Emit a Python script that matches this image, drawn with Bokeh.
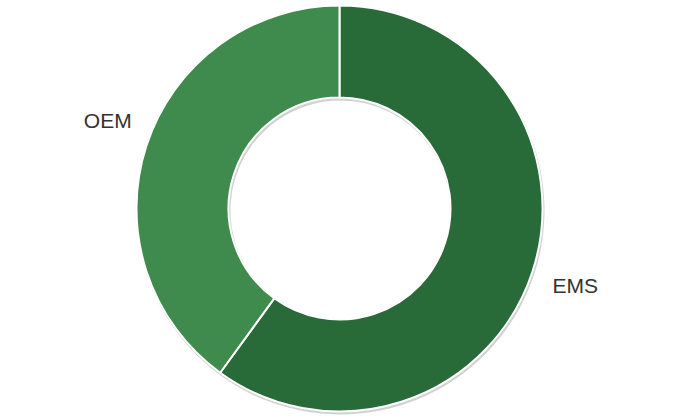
import numpy as np
from bokeh.plotting import figure
from bokeh.models import Range1d, ColumnDataSource
from bokeh.core.properties import value
from bokeh.embed import file_html
from bokeh.resources import INLINE

categories = ["EMS", "OEM"]
shares = [60, 40]
colors = ["#296a39", "#3e8b4d"]

W, H = 678, 418
cx, cy = 339, 210
R_out, R_in = 203, 111

total = float(sum(shares))
fr = np.array(shares) / total
cum = np.concatenate([[0], np.cumsum(fr)])
# clockwise from top
start = np.pi / 2 - cum[:-1] * 2 * np.pi
end = np.pi / 2 - cum[1:] * 2 * np.pi
mid = (start + end) / 2
# labels sit a little further round toward the top for the upper slice
lab_ang = mid + np.where(np.sin(mid) > 0, -1, 1) * 0.0 + np.where(np.cos(mid) < 0, -0.05, 0.0)

src = ColumnDataSource(dict(cat=categories, start=start, end=end, color=colors,
                            lx=cx + 248 * np.cos(lab_ang), ly=cy + 248 * np.sin(lab_ang)))

p = figure(width=W, height=H, output_backend="svg", toolbar_location=None,
           x_range=Range1d(0, W), y_range=Range1d(0, H), min_border=0)
p.axis.visible = False
p.grid.visible = False
p.outline_line_color = None

# shadow
p.annular_wedge(x=cx + 1, y=cy - 2, inner_radius=R_in - 1, outer_radius=R_out + 1,
                start_angle="start", end_angle="end", direction="clock",
                fill_color="#000000", fill_alpha=0.18, line_color=None, source=src)
p.annular_wedge(x=cx, y=cy, inner_radius=R_in, outer_radius=R_out,
                start_angle="start", end_angle="end", direction="clock",
                fill_color="color", line_color="white", line_width=2, source=src)
p.text(x="lx", y="ly", text="cat", text_align="center", text_baseline="middle",
       text_font=value("Liberation Sans"), text_font_size="21px", text_color="#333333",
       source=src)

open("out.html", "w").write(file_html(p, INLINE))
